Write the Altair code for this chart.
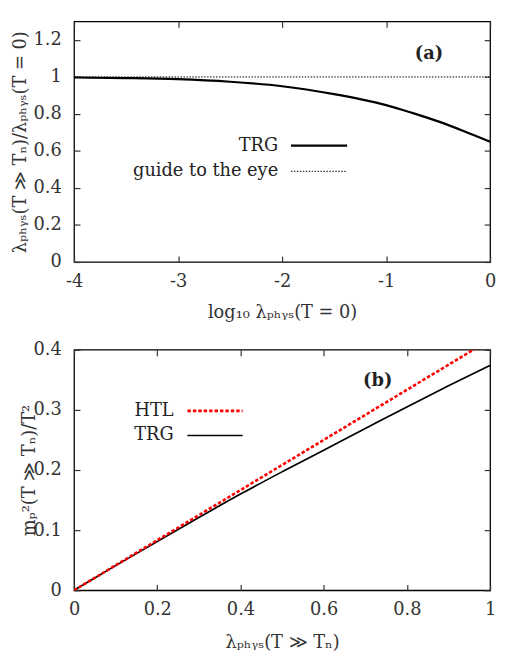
import altair as alt
import pandas as pd

# ---------------- data ----------------
# panel (a)
a_x = [-4.0, -3.5, -3.0, -2.5, -2.0, -1.5, -1.25, -1.0, -0.75, -0.5, -0.25, 0.0]
a_trg = [0.997, 0.994, 0.988, 0.974, 0.950, 0.907, 0.880, 0.848, 0.806, 0.760, 0.707, 0.650]
a_guide_x = [-4.0, 0.0]
a_guide_y = [1.0, 1.0]
a_xticks = [-4, -3, -2, -1, 0]
a_yticks = [0, 0.2, 0.4, 0.6, 0.8, 1.0, 1.2]

# panel (b)
b_x = [0.0, 0.1, 0.2, 0.3, 0.4, 0.5, 0.6, 0.7, 0.8, 0.9, 1.0]
b_trg = [0.0, 0.041, 0.081, 0.121, 0.160, 0.197, 0.233, 0.269, 0.305, 0.340, 0.374]
b_htl_x = [0.0, 1.0]
b_htl_y = [0.0, 0.4167]
b_xticks = [0, 0.2, 0.4, 0.6, 0.8, 1.0]
b_yticks = [0, 0.1, 0.2, 0.3, 0.4]

FONT = "DejaVu Serif"
FS = 18
W, H = 422, 244
TICK = 6
LBL = "replace(datum.label, '\u2212', '-')"


def axes_layers(src, xs, ys, xticks, yticks, xtitle, ytitle, ytitlepad, xtitlepad):
    bottom_left = alt.Chart(src).mark_line(opacity=0).encode(
        x=alt.X("x:Q", scale=xs, axis=alt.Axis(
            orient="bottom", values=xticks, offset=-TICK, tickSize=TICK,
            domain=False, labelPadding=11, title=xtitle, titlePadding=xtitlepad,
            format="~g", labelExpr=LBL, labelFlush=False)),
        y=alt.Y("y:Q", scale=ys, axis=alt.Axis(
            orient="left", values=yticks, offset=-TICK, tickSize=TICK,
            domain=False, labelPadding=13, title=ytitle, titlePadding=ytitlepad,
            format="~g")),
    )
    top_right = alt.Chart(src).mark_line(opacity=0).encode(
        x=alt.X("x:Q", scale=xs, axis=alt.Axis(
            orient="top", values=xticks, offset=-TICK, tickSize=TICK,
            domain=False, labels=False, title=None)),
        y=alt.Y("y:Q", scale=ys, axis=alt.Axis(
            orient="right", values=yticks, offset=-TICK, tickSize=TICK,
            domain=False, labels=False, title=None)),
    )
    return bottom_left, top_right


def text_mark(s, x, y, align="right", bold=False):
    return alt.Chart(pd.DataFrame({"t": [s]})).mark_text(
        font=FONT, fontSize=FS, align=align, baseline="middle",
        fontWeight="bold" if bold else "normal", color="#222"
    ).encode(x=alt.value(x), y=alt.value(y), text="t:N")


def legend_line(x1, x2, y, color, width, dash=None):
    kw = dict(color=color, strokeWidth=width)
    if dash:
        kw["strokeDash"] = dash
    return alt.Chart(pd.DataFrame({"d": [0]})).mark_rule(**kw).encode(
        x=alt.value(x1), x2=alt.value(x2), y=alt.value(y))


def data_line(df, xs, ys, **kw):
    return alt.Chart(df).mark_line(clip=True, interpolate="monotone", **kw).encode(
        x=alt.X("x:Q", scale=xs, axis=None),
        y=alt.Y("y:Q", scale=ys, axis=None))


# ---------------- panel (a) ----------------
a_df = pd.DataFrame({"x": a_x, "y": a_trg})
a_g = pd.DataFrame({"x": a_guide_x, "y": a_guide_y})
xs_a = alt.Scale(domain=[-4, 0], nice=False, zero=False)
ys_a = alt.Scale(domain=[0, 1.3], nice=False)

ax1, ax2 = axes_layers(a_df, xs_a, ys_a, a_xticks, a_yticks,
                       "log₁₀ λₚₕᵧₛ(T = 0)", "λₚₕᵧₛ(T ≫ Tₙ)/λₚₕᵧₛ(T = 0)", 4, 13)
a_trg_line = data_line(a_df, xs_a, ys_a, color="black", strokeWidth=2.2)
a_guide_line = data_line(a_g, xs_a, ys_a, color="black", strokeWidth=1, strokeDash=[1.5, 1.5])

panel_a = alt.layer(
    ax1, ax2, a_guide_line, a_trg_line,
    text_mark("TRG", 207, 126), legend_line(220, 277, 126, "black", 2.2),
    text_mark("guide to the eye", 207, 152),
    legend_line(220, 277, 152, "black", 1, [1.5, 1.5]),
    text_mark("(a)", 360, 33, align="center", bold=True),
).resolve_axis(x="independent", y="independent").properties(width=W, height=H)

# ---------------- panel (b) ----------------
b_df = pd.DataFrame({"x": b_x, "y": b_trg})
b_h = pd.DataFrame({"x": b_htl_x, "y": b_htl_y})
xs_b = alt.Scale(domain=[0, 1], nice=False)
ys_b = alt.Scale(domain=[0, 0.4], nice=False)

bx1, bx2 = axes_layers(b_df, xs_b, ys_b, b_xticks, b_yticks,
                       "λₚₕᵧₛ(T ≫ Tₙ)", "mₚ²(T ≫ Tₙ)/T²", -6, 15)
b_trg_line = data_line(b_df, xs_b, ys_b, color="black", strokeWidth=1.7)
b_htl_line = data_line(b_h, xs_b, ys_b, color="#ff0000", strokeWidth=2.6, strokeDash=[3.5, 2])

panel_b = alt.layer(
    bx1, bx2, b_trg_line, b_htl_line,
    text_mark("HTL", 101, 62), legend_line(115, 171, 62, "#ff0000", 2.6, [3.5, 2]),
    text_mark("TRG", 101, 87), legend_line(115, 171, 87, "black", 1.7),
    text_mark("(b)", 308, 32, align="center", bold=True),
).resolve_axis(x="independent", y="independent").properties(width=W, height=H)

chart = alt.vconcat(panel_a, panel_b, spacing=18).properties(
    padding={"left": 2, "top": 7, "right": 0, "bottom": 0},
    background="white",
).configure_view(
    stroke="black", strokeWidth=1.3
).configure_axis(
    labelFont=FONT, labelFontSize=FS, labelColor="#333",
    titleFont=FONT, titleFontSize=FS, titleFontWeight="normal", titleColor="#333",
    tickColor="#333", tickWidth=1.2, grid=False,
)

chart.save("out.html", embed_options={"renderer": "svg", "actions": False})
